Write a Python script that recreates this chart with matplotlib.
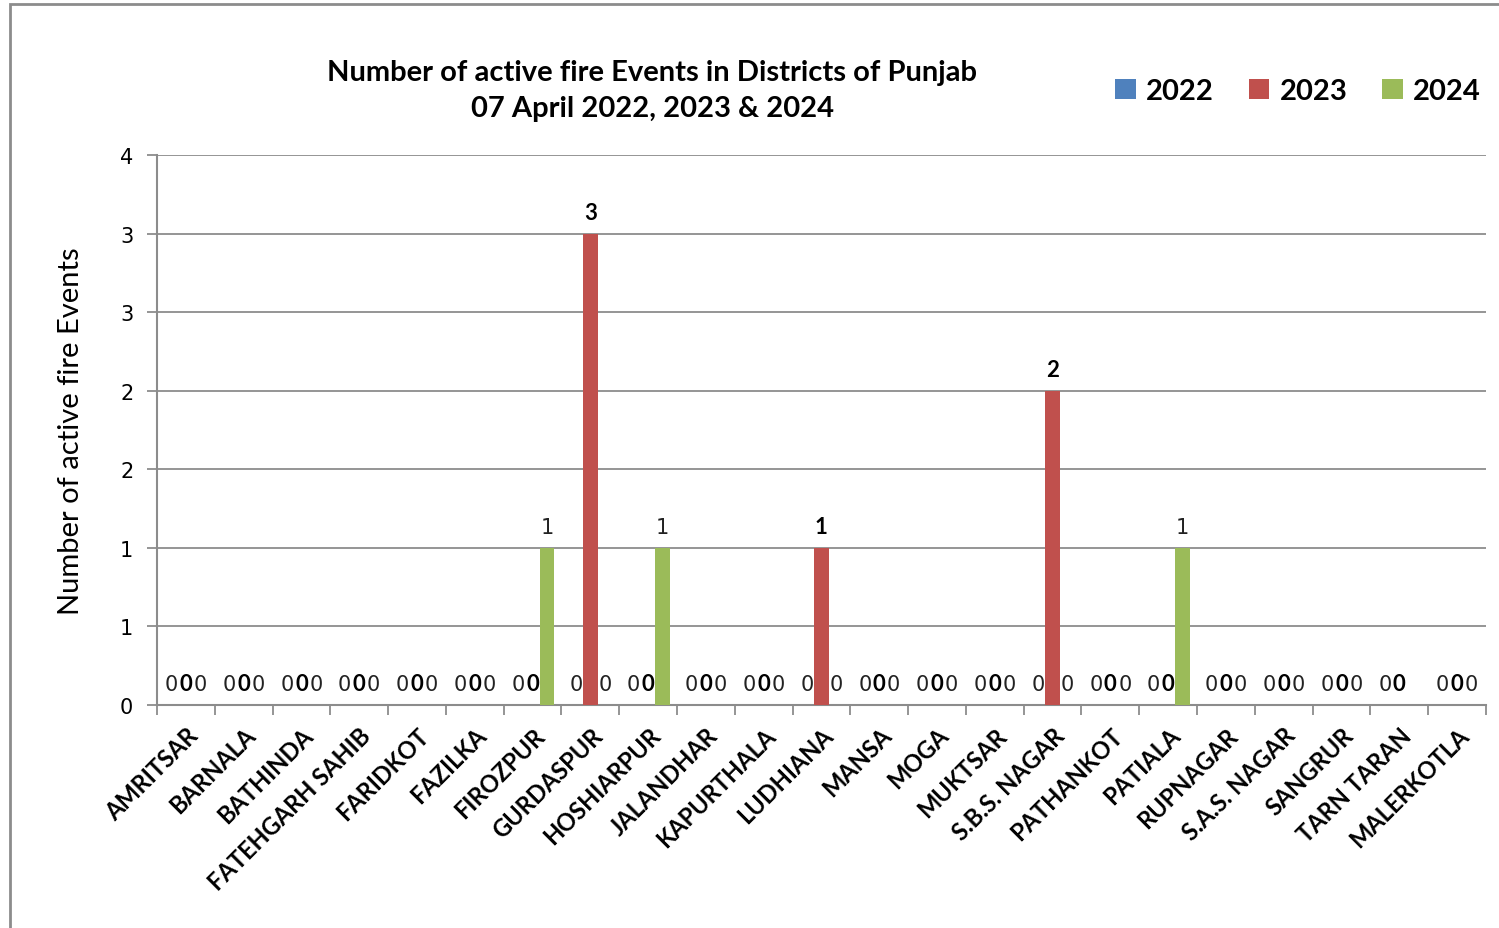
import numpy as np
import matplotlib.pyplot as plt
from matplotlib.patches import Rectangle
from matplotlib.ticker import MultipleLocator, FuncFormatter

districts = ["AMRITSAR", "BARNALA", "BATHINDA", "FATEHGARH SAHIB", "FARIDKOT", "FAZILKA",
             "FIROZPUR", "GURDASPUR", "HOSHIARPUR", "JALANDHAR", "KAPURTHALA", "LUDHIANA",
             "MANSA", "MOGA", "MUKTSAR", "S.B.S. NAGAR", "PATHANKOT", "PATIALA", "RUPNAGAR",
             "S.A.S. NAGAR", "SANGRUR", "TARN TARAN", "MALERKOTLA"]
y2022 = [0, 0, 0, 0, 0, 0, 0, 0, 0, 0, 0, 0, 0, 0, 0, 0, 0, 0, 0, 0, 0, 0, 0]
y2023 = [0, 0, 0, 0, 0, 0, 0, 3, 0, 0, 0, 1, 0, 0, 0, 2, 0, 0, 0, 0, 0, 0, 0]
y2024 = [0, 0, 0, 0, 0, 0, 1, 0, 1, 0, 0, 0, 0, 0, 0, 0, 0, 1, 0, 0, 0, None, 0]

series = [("2022", y2022, "#4F81BD", "normal"),
          ("2023", y2023, "#C0504D", "bold"),
          ("2024", y2024, "#9BBB59", "normal")]

narrow = ["Lato", "DejaVu Sans"]

fig = plt.figure(figsize=(14.99, 9.29), dpi=100)
ax = fig.add_axes([0.1047, 0.240, 0.8866, 0.592])

x = np.arange(len(districts))
w = 0.25
for i, (name, vals, col, wt) in enumerate(series):
    v = np.array([np.nan if a is None else a for a in vals], dtype=float)
    pos = x + (i - 1) * w
    ax.bar(pos, np.nan_to_num(v), width=w, color=col, label=name, zorder=3)
    for px, val in zip(pos, v):
        if np.isnan(val):
            continue
        if wt == "bold":
            ax.annotate(f"{int(val)}", (px, val), xytext=(0, 8), textcoords="offset points",
                        ha="center", va="bottom", fontsize=16, fontweight="bold",
                        family=narrow)
        else:
            ax.annotate(f"{int(val)}", (px, val), xytext=(0, 8), textcoords="offset points",
                        ha="center", va="bottom", fontsize=15, color="#222222")

ax.set_xlim(-0.5, len(districts) - 0.5)
ax.set_ylim(0, 3.5)
ax.yaxis.set_major_locator(MultipleLocator(0.5))
ax.yaxis.set_major_formatter(FuncFormatter(lambda v, p: f"{int(np.floor(v + 0.5))}"))
ax.grid(axis="y", color="#8c8c8c", linewidth=1.3, zorder=0)

ax.set_xticks(x)
ax.set_xticklabels(districts, rotation=45, ha="right", va="top", rotation_mode="anchor",
                   fontsize=17, fontweight="bold", family=narrow)
ax.tick_params(axis="x", length=0, pad=13)
ax.set_xticks(np.arange(len(districts) + 1) - 0.5, minor=True)
ax.tick_params(axis="x", which="minor", length=7, color="#8c8c8c", width=1.3)
ax.tick_params(axis="y", length=7, color="#8c8c8c", width=1.3, labelsize=15, pad=10)

for s in ["top", "right"]:
    ax.spines[s].set_visible(False)
for s in ["left", "bottom"]:
    ax.spines[s].set_color("#8c8c8c")
    ax.spines[s].set_linewidth(1.5)

ax.set_ylabel("Number of active fire Events", fontsize=21, family=narrow, labelpad=26)

fig.text(0.435, 0.902, "Number of active fire Events in Districts of Punjab\n07 April 2022, 2023 & 2024",
         ha="center", va="center", fontsize=21, fontweight="bold", family=narrow,
         linespacing=1.45)

ax.legend(loc="center", bbox_to_anchor=(0.866, 0.9005), bbox_transform=fig.transFigure,
          ncol=3, frameon=False, handlelength=0.7, handleheight=0.7, handletextpad=0.35,
          columnspacing=1.2, prop={"family": narrow, "weight": "bold", "size": 21})

fig.patches.append(Rectangle((10 / 1499, -0.1), 1.2, 1.1 - 5 / 929, transform=fig.transFigure,
                             fill=False, edgecolor="#8c8c8c", linewidth=2))

fig.savefig("out.png", dpi=100)
